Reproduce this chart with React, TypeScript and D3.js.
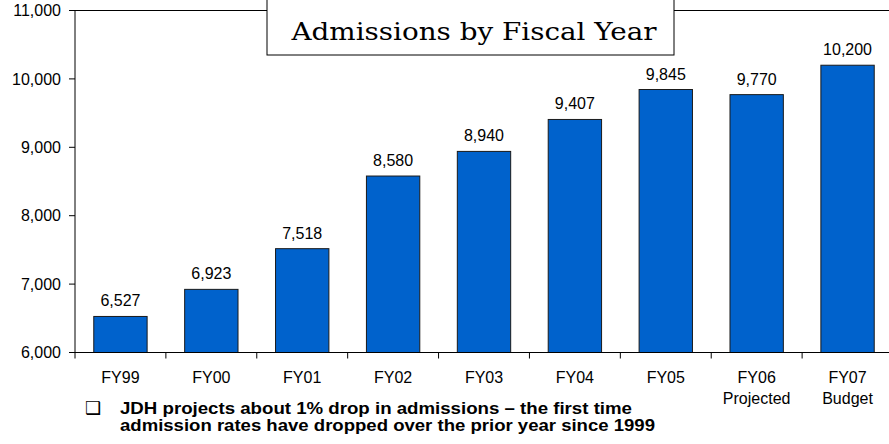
import React from "react";
import * as d3 from "d3";

const categories = ["FY99", "FY00", "FY01", "FY02", "FY03", "FY04", "FY05", "FY06", "FY07"];
const subLabels = ["", "", "", "", "", "", "", "Projected", "Budget"];
const admissions = [6527, 6923, 7518, 8580, 8940, 9407, 9845, 9770, 10200];
const yTicks = [6000, 7000, 8000, 9000, 10000, 11000];
const title = "Admissions by Fiscal Year";
const footerLines = [
  "JDH projects about 1% drop in admissions \u2013 the first time",
  "admission rates have dropped over the prior year since 1999",
];
const footerWidths = [512, 535];

const W = 889;
const H = 444;
const left = 75;
const top = 10.5;
const bottom = 352.5;
const axisEnd = 893;

export default function App() {
  const x = d3
    .scaleBand<string>()
    .domain(categories)
    .range([left, axisEnd])
    .paddingInner(0.413)
    .paddingOuter(0.2065);
  const y = d3.scaleLinear().domain([6000, 11000]).range([bottom, top]);
  const fmt = d3.format(",");
  const step = x.step();
  const sans = "'Liberation Sans', Arial, sans-serif";

  return (
    <svg
      width={W}
      height={H}
      style={{ position: "absolute", left: 0, top: 0, background: "#fff" }}
    >
      <rect x={0} y={0} width={W} height={H} fill="#fff" />
      <line x1={left} x2={axisEnd} y1={y(11000)} y2={y(11000)} stroke="#000" strokeWidth={1} />
      <line x1={left} x2={left} y1={y(11000)} y2={y(6000)} stroke="#000" strokeWidth={1} />
      {yTicks.map((t) => (
        <g key={t}>
          <line x1={left - 6} x2={left} y1={y(t)} y2={y(t)} stroke="#000" />
          <text
            x={left - 14}
            y={y(t)}
            dy="0.36em"
            textAnchor="end"
            fontFamily={sans}
            fontSize={16}
            fill="#000"
          >
            {fmt(t)}
          </text>
        </g>
      ))}
      {admissions.map((v, i) => (
        <g key={categories[i]}>
          <rect
            x={x(categories[i])}
            y={y(v)}
            width={x.bandwidth()}
            height={y(6000) - y(v)}
            fill="#0062CC"
            stroke="#1a1a1a"
            strokeWidth={1}
          />
          <text
            x={(x(categories[i]) as number) + x.bandwidth() / 2}
            y={y(v) - 10}
            textAnchor="middle"
            fontFamily={sans}
            fontSize={16}
            fill="#000"
          >
            {fmt(v)}
          </text>
        </g>
      ))}
      <line x1={left} x2={axisEnd} y1={bottom} y2={bottom} stroke="#000" strokeWidth={1} />
      {categories.map((c, i) => (
        <line
          key={"t" + c}
          x1={left + step * i}
          x2={left + step * i}
          y1={bottom}
          y2={bottom + 6}
          stroke="#000"
        />
      ))}
      {categories.map((c, i) => (
        <g key={"l" + c}>
          <text
            x={(x(c) as number) + x.bandwidth() / 2}
            y={bottom + 30}
            textAnchor="middle"
            fontFamily={sans}
            fontSize={16}
            fill="#000"
          >
            {c}
          </text>
          {subLabels[i] && (
            <text
              x={(x(c) as number) + x.bandwidth() / 2}
              y={bottom + 51}
              textAnchor="middle"
              fontFamily={sans}
              fontSize={16}
              fill="#000"
            >
              {subLabels[i]}
            </text>
          )}
        </g>
      ))}
      <rect x={267} y={-2} width={407} height={57} fill="#fff" stroke="#000" strokeWidth={1} />
      <text
        x={474}
        y={40}
        textAnchor="middle"
        fontFamily="'DejaVu Serif', serif"
        fontSize={25}
        textLength={365}
        lengthAdjust="spacingAndGlyphs"
        fill="#000"
      >
        {title}
      </text>
      <text x={85} y={414} fontFamily="'DejaVu Sans', sans-serif" fontSize={18} fill="#000">
        {"\u2751"}
      </text>
      {footerLines.map((l, i) => (
        <text
          key={i}
          x={120}
          y={414 + i * 17}
          fontFamily={sans}
          fontSize={16}
          fontWeight="bold"
          textLength={footerWidths[i]}
          lengthAdjust="spacingAndGlyphs"
          fill="#000"
        >
          {l}
        </text>
      ))}
    </svg>
  );
}
